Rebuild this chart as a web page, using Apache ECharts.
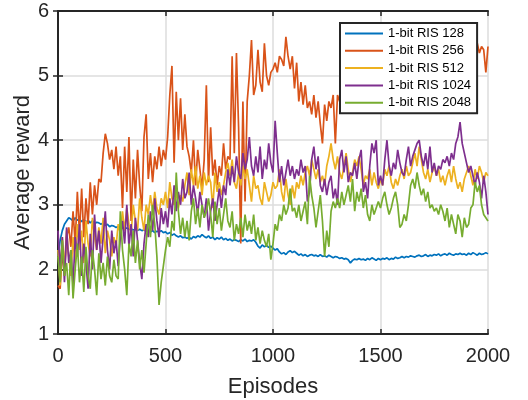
<!DOCTYPE html>
<html>
<head>
<meta charset="utf-8">
<script src="https://cdn.jsdelivr.net/npm/echarts@6/dist/echarts.min.js"></script>
<style>html,body{margin:0;padding:0;background:#fff;}#c{width:528px;height:400px;}</style>
</head>
<body>
<div id="c"></div>
<script>
const seriesNames = ["1-bit RIS 128", "1-bit RIS 256", "1-bit RIS 512", "1-bit RIS 1024", "1-bit RIS 2048"];
const episodeStep = 10;
const xTicks = [0, 500, 1000, 1500, 2000];
const yTicks = [1, 2, 3, 4, 5, 6];

const ris128 = [
2.2,2.45,2.6,2.7,2.75,2.8,2.78,2.75,2.8,2.76,
2.78,2.74,2.77,2.73,2.76,2.72,2.75,2.7,2.73,2.72,
2.7,2.72,2.68,2.7,2.66,2.68,2.67,2.65,2.66,2.64,
2.65,2.63,2.64,2.62,2.63,2.61,2.62,2.6,2.62,2.6,
2.61,2.59,2.6,2.58,2.6,2.57,2.59,2.58,2.6,2.57,
2.58,2.55,2.57,2.53,2.55,2.52,2.5,2.52,2.49,2.5,
2.48,2.5,2.47,2.51,2.49,2.52,2.5,2.54,2.51,2.49,
2.52,2.48,2.5,2.46,2.49,2.47,2.5,2.46,2.48,2.45,
2.47,2.44,2.46,2.45,2.43,2.46,2.44,2.47,2.43,2.45,
2.44,2.46,2.42,2.36,2.33,2.38,2.35,2.37,2.34,2.36,
2.33,2.3,2.32,2.27,2.24,2.26,2.23,2.27,2.29,2.26,
2.28,2.25,2.22,2.24,2.21,2.23,2.2,2.22,2.23,2.21,
2.22,2.2,2.23,2.2,2.21,2.19,2.22,2.2,2.18,2.2,
2.19,2.17,2.18,2.16,2.17,2.15,2.1,2.14,2.16,2.15,
2.17,2.15,2.16,2.14,2.17,2.15,2.18,2.16,2.14,2.17,
2.15,2.17,2.16,2.18,2.15,2.17,2.16,2.19,2.17,2.18,
2.2,2.18,2.2,2.19,2.21,2.2,2.19,2.21,2.22,2.2,
2.21,2.23,2.2,2.22,2.21,2.23,2.22,2.24,2.21,2.23,
2.24,2.22,2.25,2.23,2.22,2.24,2.23,2.25,2.23,2.24,
2.22,2.25,2.23,2.26,2.24,2.22,2.25,2.23,2.24,2.26,
2.24];

const ris256 = [
1.75,1.7,2.3,1.9,2.5,2.65,2.35,2.9,2.4,3.2,
2.55,3.25,2.5,3.1,2.7,3.35,2.85,3.3,3.0,3.4,
3.35,3.8,4.1,3.95,3.7,3.85,3.55,3.9,3.45,3.75,
2.95,3.9,3.2,4.05,2.75,3.7,3.1,3.85,3.3,2.9,
4.05,4.4,3.4,3.8,3.35,3.75,3.55,3.9,3.6,3.85,
3.7,4.05,4.7,5.15,3.65,4.75,4.0,4.65,3.85,4.4,
3.9,3.75,3.5,4.0,3.3,3.85,3.55,3.25,3.7,4.85,
3.35,4.2,3.45,3.7,3.3,3.6,3.45,3.95,3.55,3.75,
3.7,5.3,3.8,5.35,4.2,2.4,4.6,3.05,4.6,5.0,
5.55,4.7,4.85,5.4,4.9,4.75,5.5,5.0,4.85,5.05,
5.1,5.2,5.05,5.3,5.25,5.15,5.6,5.3,5.1,5.3,
4.8,5.2,4.6,4.9,4.55,4.85,4.5,4.6,4.4,4.7,
4.35,4.6,4.25,3.95,4.55,4.3,4.6,4.5,4.7,3.95,
4.7,4.6,4.75,4.8,4.7,4.85,4.9,4.8,4.95,4.9,
5.0,4.9,5.05,5.0,5.1,4.95,5.05,5.15,5.0,5.1,
5.15,5.05,5.2,5.1,5.25,5.15,5.2,5.1,5.25,5.2,
5.3,5.2,5.25,5.35,5.2,5.3,5.25,5.35,5.3,5.2,
5.3,5.35,5.25,5.4,5.3,5.35,5.25,5.4,5.3,5.35,
5.4,5.3,5.35,5.45,5.3,5.4,5.35,5.45,5.35,5.4,
5.3,5.4,5.35,5.45,5.3,5.5,5.35,5.45,5.4,5.05,
5.45];

const ris512 = [
2.3,1.75,2.5,2.0,2.6,2.2,1.9,2.5,2.1,2.7,
2.3,2.6,2.1,2.75,2.4,2.2,2.8,2.5,2.3,2.65,
2.4,2.8,2.25,2.6,2.45,2.2,2.5,2.35,2.7,2.55,
2.9,2.6,2.95,2.7,2.55,3.0,2.75,2.6,3.1,2.8,
2.6,3.0,2.85,3.15,2.9,3.2,2.95,2.85,3.1,3.0,
3.2,2.95,3.35,3.1,3.0,3.2,2.95,3.15,3.05,3.3,
3.5,3.15,3.55,3.3,3.6,3.25,3.45,3.15,3.5,3.3,
3.45,3.35,2.95,3.5,3.2,3.35,3.15,3.3,3.5,3.65,
3.45,3.7,3.35,3.25,3.5,3.3,3.6,3.4,3.55,3.3,
3.05,3.45,3.25,3.3,3.1,3.0,3.35,3.2,3.05,3.15,
3.35,3.25,3.3,3.55,3.2,3.05,3.4,3.15,3.0,3.3,
3.1,3.35,3.25,3.45,3.3,3.5,3.6,3.45,3.7,3.55,
3.4,3.55,3.35,3.45,3.3,3.6,3.75,3.95,3.7,3.55,
3.75,3.5,3.4,3.6,3.8,3.55,3.35,3.5,3.7,3.6,
3.75,3.55,3.3,3.45,3.4,3.55,3.3,3.5,3.35,3.25,
3.4,3.3,3.55,3.45,3.6,3.35,3.25,3.4,3.3,3.45,
3.55,3.4,3.6,3.45,3.5,3.65,3.8,3.6,3.9,3.7,
3.5,3.4,3.55,3.35,3.5,3.6,3.45,3.55,3.35,3.45,
3.3,3.45,3.55,3.35,3.6,3.4,3.25,3.35,3.2,3.4,
3.5,3.6,3.45,3.3,3.55,3.4,3.6,3.5,3.35,3.5,
3.45];

const ris1024 = [
2.6,2.0,2.5,1.8,2.65,2.1,2.3,1.75,2.5,2.2,
2.7,1.9,2.4,2.1,1.7,2.55,2.0,2.85,2.3,2.6,
2.1,2.5,2.9,2.3,2.0,2.6,2.25,2.45,2.05,2.5,
2.75,2.4,3.0,2.35,2.7,2.2,2.8,2.45,2.1,1.85,
2.4,2.7,2.5,2.9,2.6,3.1,2.75,2.5,2.95,2.7,
2.9,2.65,3.1,2.85,3.3,2.9,3.2,3.0,3.4,3.1,
3.2,3.5,3.0,3.3,3.1,2.85,3.2,3.0,2.8,3.1,
2.6,2.9,3.1,2.75,3.0,3.25,2.95,3.3,3.15,3.55,
3.3,3.6,3.35,3.75,3.5,3.4,3.8,3.55,3.7,4.05,
3.6,3.45,3.75,3.5,3.9,3.4,3.7,3.55,3.95,3.65,
3.5,4.3,3.8,3.35,3.6,3.3,3.5,3.7,3.45,3.6,
3.4,3.55,3.45,3.7,3.5,3.6,3.05,3.2,3.7,3.9,
3.55,3.75,3.3,3.2,3.4,3.15,3.35,3.45,3.1,3.25,
3.0,3.7,3.85,3.5,3.75,3.35,3.5,3.45,3.65,3.4,
3.7,3.85,3.2,3.35,3.1,3.6,3.95,3.8,4.0,3.3,
3.45,3.3,3.7,4.0,3.6,3.45,3.65,3.55,3.85,3.65,
3.5,3.45,3.7,3.9,3.6,3.75,3.85,3.95,4.0,3.75,
3.6,3.8,3.55,3.9,3.5,3.65,3.45,3.6,3.55,3.7,
3.65,3.75,3.6,3.8,3.7,3.95,4.05,4.28,3.95,3.8,
3.65,3.5,3.6,3.45,3.3,3.5,3.35,3.1,3.45,3.2,
2.85];

const ris2048 = [
2.2,1.8,2.45,1.9,2.1,1.6,2.3,1.55,2.0,2.4,
1.8,2.2,1.65,2.35,1.9,1.7,2.3,2.0,1.6,2.25,
1.85,2.1,1.75,2.2,1.9,1.8,2.15,1.9,1.85,2.9,
2.3,2.0,1.6,2.4,2.2,2.6,2.1,2.45,2.0,2.3,
1.95,2.4,2.85,2.5,3.0,2.7,2.2,1.45,1.8,2.05,
2.3,2.5,2.35,2.75,2.6,3.5,2.9,2.55,2.8,2.5,
2.75,2.45,2.9,3.1,2.7,2.95,2.65,3.0,2.8,2.9,
3.1,2.85,2.5,3.05,2.7,2.95,2.6,2.85,3.1,2.75,
2.65,2.9,2.45,2.7,2.55,2.8,2.5,2.85,2.6,2.75,
2.55,2.85,2.45,2.65,2.4,2.6,2.45,2.35,2.55,2.15,
2.4,2.7,2.6,2.85,2.75,3.0,2.85,2.95,3.25,2.9,
2.95,2.8,3.0,2.75,2.9,3.05,2.7,3.45,3.15,2.95,
2.65,2.9,3.15,2.75,2.2,2.6,2.35,2.9,3.05,2.95,
3.1,2.95,3.2,3.0,3.15,3.3,3.05,3.4,2.9,3.2,
3.05,3.25,2.95,3.15,2.85,2.75,3.0,2.85,2.95,3.05,
2.95,3.1,3.2,3.0,2.85,2.95,3.1,3.2,3.0,2.65,
2.7,2.85,2.75,3.0,3.3,3.4,3.25,3.5,3.3,3.15,
3.25,3.05,3.2,2.95,3.0,2.9,2.95,2.85,3.0,2.9,
2.75,2.95,2.65,2.85,2.7,2.55,2.85,2.75,2.5,2.8,
2.65,2.7,2.95,3.0,3.35,3.2,3.3,3.0,2.85,2.8,
2.75];

const seriesValues = [ris128, ris256, ris512, ris1024, ris2048];
const colors = ["#0072BD", "#D95319", "#EDB120", "#7E2F8E", "#77AC30"];

const chart = echarts.init(document.getElementById('c'), null, {renderer: 'canvas'});
const axisCol = '#262626';
const font = 'Liberation Sans, Arial, sans-serif';

const series = seriesNames.map((n, k) => ({
  name: n,
  type: 'line',
  symbol: 'none',
  showSymbol: false,
  animation: false,
  lineStyle: {width: 1.7, color: colors[k]},
  itemStyle: {color: colors[k]},
  data: seriesValues[k].map((v, i) => [i * episodeStep, v])
}));

chart.setOption({
  animation: false,
  backgroundColor: '#fff',
  grid: {left: 58, right: 40, top: 11, bottom: 66, containLabel: false, outerBoundsMode: 'none'},
  legend: {
    orient: 'vertical',
    left: 340, top: 23,
    data: seriesNames.map((n, k) => ({name: n, icon: 'rect', itemStyle: {color: colors[k]}})),
    backgroundColor: '#fff',
    borderColor: axisCol, borderWidth: 2,
    padding: [4, 6, 4, 5],
    itemWidth: 38, itemHeight: 2, itemGap: 4.3,
    textStyle: {fontFamily: font, fontSize: 13, color: '#000', lineHeight: 13},
    z: 10
  },
  xAxis: [{
    type: 'value', min: 0, max: 2000, interval: 500,
    name: 'Episodes', nameLocation: 'middle', nameGap: 42, nameMoveOverlap: false,
    nameTextStyle: {fontFamily: font, fontSize: 22, color: axisCol},
    axisLine: {show: true, lineStyle: {color: axisCol, width: 2}},
    axisTick: {show: true, inside: true, length: 5, lineStyle: {color: axisCol, width: 1.5}},
    axisLabel: {fontFamily: font, fontSize: 20, color: axisCol, margin: 12,
      formatter: v => xTicks.includes(v) ? String(v) : ''},
    splitLine: {show: true, lineStyle: {color: '#dcdcdc', width: 1.5}}
  }, {
    type: 'value', min: 0, max: 2000, interval: 500, position: 'top',
    axisLine: {show: true, lineStyle: {color: axisCol, width: 2}},
    axisTick: {show: true, inside: true, length: 5, lineStyle: {color: axisCol, width: 1.5}},
    axisLabel: {show: false}, splitLine: {show: false}
  }],
  yAxis: [{
    type: 'value', min: 1, max: 6, interval: 1,
    name: 'Average reward', nameLocation: 'middle', nameGap: 24, nameMoveOverlap: false,
    nameTextStyle: {fontFamily: font, fontSize: 22, color: axisCol},
    axisLine: {show: true, lineStyle: {color: axisCol, width: 2}},
    axisTick: {show: true, inside: true, length: 5, lineStyle: {color: axisCol, width: 1.5}},
    axisLabel: {fontFamily: font, fontSize: 20, color: axisCol, margin: 9,
      formatter: v => yTicks.includes(v) ? String(v) : ''},
    splitLine: {show: true, lineStyle: {color: '#dcdcdc', width: 1.5}}
  }, {
    type: 'value', min: 1, max: 6, interval: 1, position: 'right',
    axisLine: {show: true, lineStyle: {color: axisCol, width: 2}},
    axisTick: {show: true, inside: true, length: 5, lineStyle: {color: axisCol, width: 1.5}},
    axisLabel: {show: false}, splitLine: {show: false}
  }],
  series: series
});
</script>
</body>
</html>
